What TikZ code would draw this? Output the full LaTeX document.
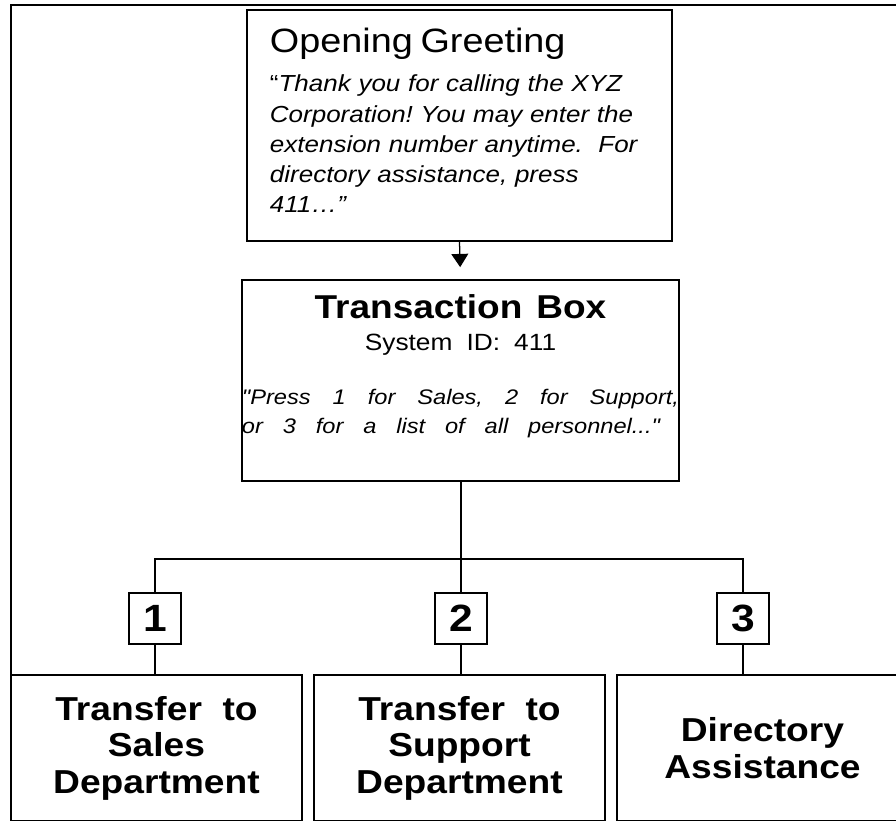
\documentclass[tikz,border=0pt]{standalone}
\usepackage{fontspec}
\setmainfont[FakeStretch=1.12]{Liberation Sans}
\newfontfamily\rawquote[FakeStretch=1.12]{Liberation Sans}
\usetikzlibrary{arrows.meta}
\newcommand{\spreadline}[2]{\makebox[#1][s]{\spaceskip=0.3em plus 1fil\relax\itshape #2}}
\newcommand{\sq}{{\rawquote\itshape"}}

\begin{document}
\frenchspacing
\begin{tikzpicture}[
	x=0.025cm, y=-0.025cm,
	>={Triangle[length=3.3mm, width=4.2mm]},
	box/.style={
		rectangle, draw=black, line width=1.2pt,
		fill=white, inner sep=0pt
	},
	greetbox/.style={
		box, minimum width=10.625cm, minimum height=5.775cm,
		text width=9.475cm, align=left,
		font=\fontsize{16.5}{21.5}\selectfont
	},
	transbox/.style={
		box, minimum width=10.925cm, minimum height=5.025cm,
		text width=10.925cm, align=center,
		font=\fontsize{15}{20}\selectfont
	},
	keybox/.style={
		box, minimum width=1.3cm, minimum height=1.275cm,
		font=\fontsize{27}{30}\selectfont\bfseries
	},
	deptbox/.style={
		box, minimum width=7.275cm, minimum height=3.65cm,
		align=center,
		font=\fontsize{23.6}{26}\selectfont\bfseries
	},
	conn/.style={line width=0.9pt, black},
	arr/.style={conn, ->, shorten >=0.3cm},
	frame/.style={line width=1.8pt, black}
	]
	\useasboundingbox (0,0) rectangle (896,821);
	\clip (0,0) rectangle (896,821);

	% greeting and transaction box
	\node[greetbox] (greet) at (459.5, 125.5) {{\fontsize{24}{28}\selectfont Opening Greeting}\\[6.2pt]
		“\textit{Thank you for calling the XYZ}\\
		\textit{Corporation! You may enter the}\\
		\textit{extension number anytime.~~For}\\
		\textit{directory assistance, press}\\
		\textit{411…”}\rule[-7pt]{0pt}{0pt}};
	\node[transbox] (trans) at (460.5, 380.5) {{\fontsize{23.5}{26}\selectfont\bfseries Transaction~~Box}\\[2.8pt]
		{\fontsize{16.7}{20}\selectfont System~~ID:~~411}\\[19pt]
		\spreadline{10.925cm}{\sq Press 1 for Sales, 2 for Support,}\\
		\makebox[10.925cm][l]{\spreadline{10.45cm}{or 3 for a list of all personnel...\sq}}\rule[-24pt]{0pt}{0pt}};
	\draw[arr] (greet.south) -- (trans.north);

	% menu keys
	\coordinate (fork) at (461, 559);
	\node[keybox] (k1) at (155, 618.5) {1};
	\node[keybox] (k2) at (461, 618.5) {2};
	\node[keybox] (k3) at (743, 618.5) {3};
	\draw[conn] (trans.south -| fork) -- (k2.north);
	\draw[conn] (k1.north) |- (fork) -| (k3.north);

	% departments
	\node[deptbox] (sales) at (156.5, 748) {Transfer~~to\\Sales\\Department};
	\node[deptbox] (support) at (459.5, 748) {Transfer~~to\\Support\\Department};
	\node[deptbox] (dir) at (762.5, 748) {Directory\\Assistance};
	\draw[conn] (k1.south) -- (k1.south |- sales.north);
	\draw[conn] (k2.south) -- (k2.south |- support.north);
	\draw[conn] (k3.south) -- (k3.south |- dir.north);

	\draw[frame] (11, 821) -- (11, 5) -- (896, 5);
\end{tikzpicture}
\end{document}
